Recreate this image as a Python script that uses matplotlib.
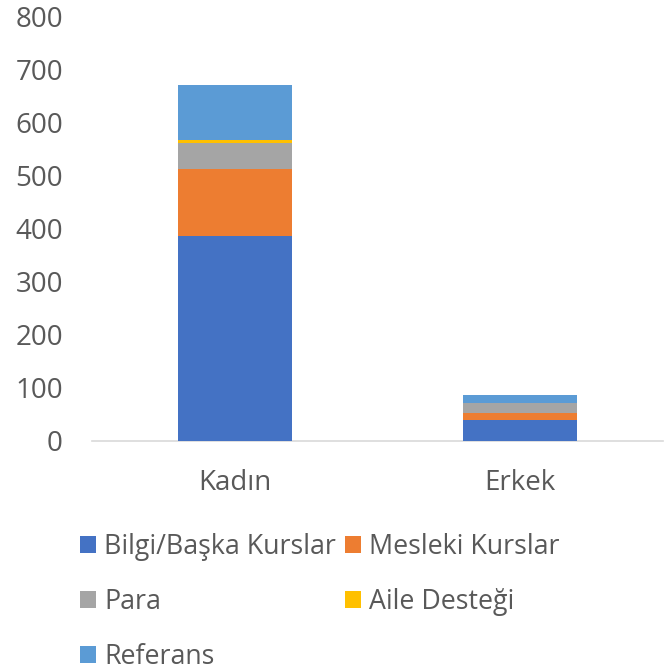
import matplotlib.pyplot as plt
from matplotlib.patches import Patch
import numpy as np

plt.rcParams['font.family'] = ['Open Sans', 'DejaVu Sans']

categories = ['Kadın', 'Erkek']
series_names = ['Bilgi/Başka Kurslar', 'Mesleki Kurslar', 'Para', 'Aile Desteği', 'Referans']
bilgi = [386, 39]
mesleki = [127, 14]
para = [49, 19]
aile = [5, 0]
referans = [104, 14]
colors = ['#4472C4', '#ED7D31', '#A5A5A5', '#FFC000', '#5B9BD5']

fig = plt.figure(figsize=(6.72, 6.72), dpi=100)
ax = fig.add_axes([0.137, 0.3438, 0.8496, 0.6322])

x = np.arange(len(categories))
bottom = np.zeros(len(categories))
for vals, col in zip([bilgi, mesleki, para, aile, referans], colors):
    ax.bar(x, vals, width=0.4, bottom=bottom, color=col, linewidth=0, zorder=3)
    bottom += np.array(vals)

ax.set_xlim(-0.5, 1.5)
ax.set_ylim(0, 800)
ax.set_yticks(range(0, 801, 100))
ax.set_xticks(x)
ax.set_xticklabels(categories)
for s in ['top', 'right', 'left']:
    ax.spines[s].set_visible(False)
ax.spines['bottom'].set_color('#D9D9D9')
ax.spines['bottom'].set_linewidth(1.2)
ax.tick_params(axis='both', length=0, labelsize=20, labelcolor='#595959')
ax.tick_params(axis='y', pad=21)
ax.tick_params(axis='x', pad=20)

# legend in row order like the original (column-major fill)
order = [0, 2, 4, 1, 3]
handles = [Patch(facecolor=colors[i], label=series_names[i]) for i in order]
leg = fig.legend(handles=handles, ncol=2, loc='upper left', bbox_to_anchor=(0.099, 0.2275),
                 frameon=False, fontsize=19.3, handlelength=0.6, handleheight=0.6,
                 handletextpad=0.3, columnspacing=0.35, labelspacing=1.02, borderpad=0)
for t in leg.get_texts():
    t.set_color('#595959')

fig.savefig('out.png', dpi=100)
